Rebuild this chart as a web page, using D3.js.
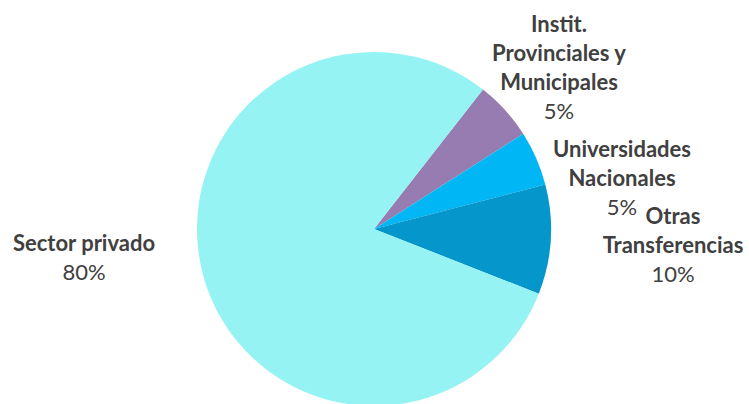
<!DOCTYPE html>
<html>
<head>
<meta charset="utf-8">
<script src="https://cdn.jsdelivr.net/npm/d3@7"></script>
<style>
  html, body { margin: 0; padding: 0; background: #ffffff; }
  svg { display: block; }
  text { font-family: Lato, "Open Sans", sans-serif; fill: #404040; }
</style>
</head>
<body>
<svg id="chart" width="749" height="404"></svg>
<script>
// Data (order as drawn clockwise, starting at upper-right)
const categories = ["Instit. Provinciales y Municipales", "Universidades Nacionales", "Otras Transferencias", "Sector privado"];
const labelLines = [["Instit.", "Provinciales y", "Municipales"], ["Universidades", "Nacionales"], ["Otras", "Transferencias"], ["Sector privado"]];
const values = [5.4, 5.0, 10.0, 79.6];
const percentLabels = ["5%", "5%", "10%", "80%"];
const colors = ["#967CB0", "#00B6F4", "#0596CC", "#95F3F3"];

// Layout
const width = 749, height = 404;
const cx = 374, cy = 229, radius = 177;
const startDeg = 38;
const labelLayout = [
  { x: 559, y: 32 },
  { x: 622, y: 157 },
  { x: 673, y: 224 },
  { x: 84, y: 251 }
];
const lineH = 29;

const svg = d3.select("#chart");
const g = svg.append("g").attr("transform", `translate(${cx},${cy})`);

const start = startDeg * Math.PI / 180;
const pie = d3.pie().sort(null).value(d => d).startAngle(start).endAngle(start + 2 * Math.PI);
const arc = d3.arc().innerRadius(0).outerRadius(radius);

g.selectAll("path.slice")
  .data(pie(values))
  .join("path")
  .attr("class", "slice")
  .attr("d", arc)
  .attr("fill", (d, i) => colors[i]);

const labels = svg.selectAll("text.lbl")
  .data(categories)
  .join("text")
  .attr("class", "lbl")
  .attr("text-anchor", "middle")
  .attr("font-size", 22);

labels.each(function(d, i) {
  const t = d3.select(this);
  const L = labelLayout[i];
  labelLines[i].forEach((line, j) => {
    t.append("tspan")
      .attr("x", L.x)
      .attr("y", L.y + j * lineH)
      .attr("font-weight", "bold")
      .text(line);
  });
  t.append("tspan")
    .attr("x", L.x)
    .attr("y", L.y + labelLines[i].length * lineH)
    .attr("font-weight", "normal")
    .text(percentLabels[i]);
});
</script>
</body>
</html>
